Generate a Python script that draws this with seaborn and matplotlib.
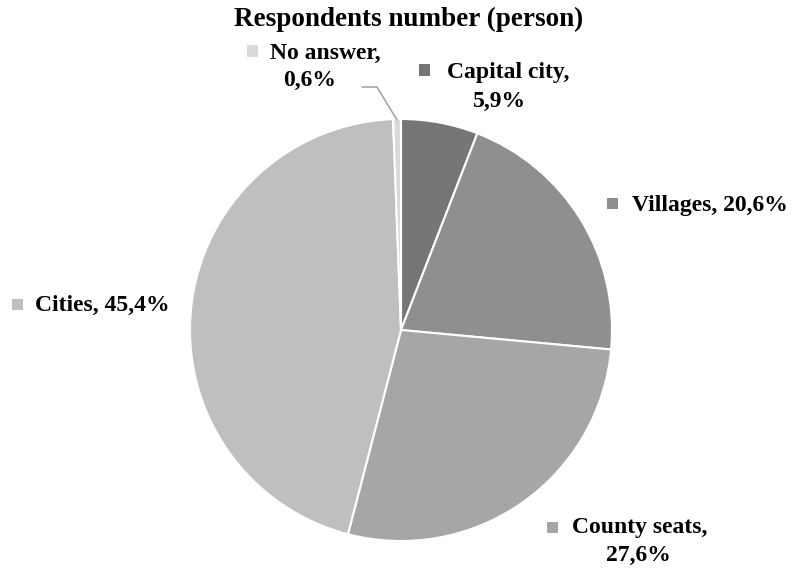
import matplotlib
matplotlib.use('Agg')
import matplotlib.pyplot as plt
import matplotlib.patches as mpatches
import seaborn as sns

# Данные
categories = ['Capital city', 'Villages', 'County seats', 'Cities', 'No answer']
shares = [5.9, 20.6, 27.6, 45.4, 0.6]
colors = ['#767676', '#8f8f8f', '#a6a6a6', '#bfbfbf', '#d9d9d9']
title = 'Respondents number (person)'

sns.set_theme(style='white')
plt.rcParams['font.family'] = ['Liberation Serif', 'DejaVu Serif']
plt.rcParams['text.color'] = 'black'

W, H = 792, 568
fig = plt.figure(figsize=(W / 100, H / 100), dpi=100)

# Круг: центр (401, 330) px, радиус 211 px
cx, cy, r = 401, 330, 211
ax = fig.add_axes([(cx - r) / W, (H - cy - r) / H, 2 * r / W, 2 * r / H])
ax.pie(shares, colors=colors, startangle=90, counterclock=False, radius=1,
       wedgeprops=dict(edgecolor='white', linewidth=1.5))
ax.set_xlim(-1, 1)
ax.set_ylim(-1, 1)
ax.set_aspect('equal')
ax.axis('off')

fig.text(409 / W, 1 - 19 / H, title, ha='center', va='center',
         fontsize=19.5, fontweight='bold', color='black')


def fmt(v):
    return f'{v:.1f}'.replace('.', ',') + '%'


def px(x, y):
    return x / W, 1 - y / H


def square(x, y, color, s=11):
    fig.patches.append(mpatches.Rectangle(((x - s / 2) / W, 1 - (y + s / 2) / H),
                                          s / W, s / H, transform=fig.transFigure,
                                          facecolor=color, edgecolor='none'))


lab = dict(fontsize=17, fontweight='bold', color='black')
# позиции подписей (px): квадрат, первая строка, вторая строка
layout = {
    'Capital city': [(425, 70), (447, 72, 'left'), (500, 101)],
    'Villages': [(612, 204), (632, 205, 'left'), None],
    'County seats': [(552, 527), (572, 528, 'left'), (638, 555)],
    'Cities': [(17, 304), (35, 305, 'left'), None],
    'No answer': [(252, 51), (270, 53, 'left'), (310, 80)],
}
for name, v, c in zip(categories, shares, colors):
    sq, first, second = layout[name]
    square(*sq, c)
    if second is None:
        fig.text(*px(first[0], first[1]), f'{name}, {fmt(v)}', ha='left', va='center', **lab)
    else:
        fig.text(*px(first[0], first[1]), f'{name},', ha='left', va='center', **lab)
        fig.text(*px(*second), fmt(v), ha='center', va='center', **lab)

# выноска для "No answer"
lx = [362, 377, 397]
ly = [87, 87, 120]
fig.lines.append(plt.Line2D([x / W for x in lx], [1 - y / H for y in ly],
                            transform=fig.transFigure, color='#a6a6a6', linewidth=1.2))

fig.savefig('out.png', dpi=100)
